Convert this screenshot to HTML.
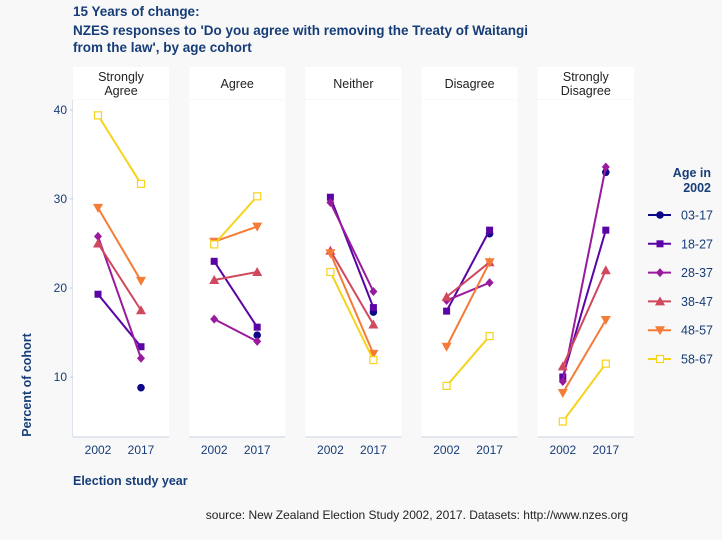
<!DOCTYPE html>
<html><head><meta charset="utf-8">
<style>
body{margin:0;background:#f8f8f8;font-family:"Liberation Sans","DejaVu Sans",sans-serif;}
svg{display:block}
</style></head>
<body>
<svg id="chart" width="722" height="540" xmlns="http://www.w3.org/2000/svg">
<rect width="722" height="540" fill="#f8f8f8"/>
<text x="73" y="16" font-size="13.5" font-weight="bold" fill="#163d78">15 Years of change:</text>
<text x="73" y="35" font-size="13.5" font-weight="bold" fill="#163d78">NZES responses to 'Do you agree with removing the Treaty of Waitangi</text>
<text x="73" y="52" font-size="13.5" font-weight="bold" fill="#163d78">from the law', by age cohort</text>
<text transform="translate(31,385) rotate(-90)" font-size="12.5" font-weight="bold" fill="#163d78" text-anchor="middle">Percent of cohort</text>
<text x="73" y="485" font-size="12.5" font-weight="bold" fill="#163d78">Election study year</text>
<text x="628" y="519" font-size="12" fill="#222" text-anchor="end">source: New Zealand Election Study 2002, 2017. Datasets: http://www.nzes.org</text>
<g id="plots"></g>
<g id="legend"></g>
</svg>
<script>
const panels = ["Strongly|Agree","Agree","Neither","Disagree","Strongly|Disagree"];
const cohorts = ["03-17","18-27","28-37","38-47","48-57","58-67"];
const years = ["2002","2017"];
const yTicks = [10,20,30,40];
// values per cohort: per panel [v2002, v2017]
const v0317 = [[null,8.8],[null,14.7],[null,17.3],[null,26.1],[null,33.0]];
const v1827 = [[19.3,13.4],[23.0,15.6],[30.2,17.8],[17.4,26.5],[10.0,26.5]];
const v2837 = [[25.8,12.1],[16.5,14.0],[29.6,19.6],[18.6,20.6],[9.5,33.6]];
const v3847 = [[25.0,17.5],[20.9,21.8],[24.2,15.9],[19.0,22.9],[11.2,22.0]];
const v4857 = [[29.0,20.8],[25.2,26.9],[23.9,12.6],[13.4,22.9],[8.2,16.4]];
const v5867 = [[39.4,31.7],[24.9,30.3],[21.8,11.9],[9.0,14.6],[5.0,11.5]];
const series = [v0317,v1827,v2837,v3847,v4857,v5867];
const colors = ["#0d0887","#5a04a5","#9a1a9e","#d0485d","#f47c36","#f7d31c"];
const shapes = ["circle","square","diamond","tri","tridown","opensq"];

const NS="http://www.w3.org/2000/svg";
function el(tag,attrs,parent){const e=document.createElementNS(NS,tag);for(const k in attrs)e.setAttribute(k,attrs[k]);parent.appendChild(e);return e;}
const yScale = v => 377-(v-10)*8.9;
const panelX = i => 73+i*116.2;
const px = (i,j) => panelX(i)+25+j*43;
const W=96, plotTop=100, plotBottom=437;

function marker(g,shape,cx,cy,c){
  let m;
  if(shape==="circle") m=el("circle",{cx:cx,cy:cy,r:3.8,fill:c},g);
  else if(shape==="square") m=el("rect",{x:cx-3.5,y:cy-3.5,width:7,height:7,fill:c},g);
  else if(shape==="diamond") m=el("polygon",{points:`${cx},${cy-4.5} ${cx+4},${cy} ${cx},${cy+4.5} ${cx-4},${cy}`,fill:c},g);
  else if(shape==="tri") m=el("polygon",{points:`${cx},${cy-5} ${cx+5},${cy+4} ${cx-5},${cy+4}`,fill:c},g);
  else if(shape==="tridown") m=el("polygon",{points:`${cx-5},${cy-4} ${cx+5},${cy-4} ${cx},${cy+5}`,fill:c},g);
  else m=el("rect",{x:cx-3.5,y:cy-3.5,width:7,height:7,fill:"#fff",stroke:c,"stroke-width":1.2},g);
  return m;
}

const plots=document.getElementById("plots");
const ya=el("g",{},plots);


el("line",{x1:73,y1:plotTop,x2:73,y2:plotBottom,stroke:"#c5cfe0"},ya);
yTicks.forEach(t=>{
  el("line",{x1:70,y1:yScale(t),x2:73,y2:yScale(t),stroke:"#c5cfe0"},ya);
  const tx=el("text",{x:67,y:yScale(t)+4,"font-size":12,fill:"#163d78","text-anchor":"end"},ya);
  tx.textContent=t;
  
  
});

panels.forEach((p,i)=>{
  const g=el("g",{},plots);
  
  
  const x0=panelX(i);
  el("rect",{x:x0,y:67,width:W,height:32,fill:"#fff"},g);
  const lines=p.split("|");
  lines.forEach((l,k)=>{
    const t=el("text",{x:x0+W/2,y:(lines.length===1?88:81+k*14),"font-size":12.5,fill:"#222","text-anchor":"middle"},g);
    t.textContent=l;
    
    
  });
  el("rect",{x:x0,y:plotTop,width:W,height:plotBottom-plotTop,fill:"#fff"},g);
  el("line",{x1:x0,y1:plotBottom,x2:x0+W,y2:plotBottom,stroke:"#c5cfe0"},g);
  years.forEach((yr,j)=>{
    const t=el("text",{x:px(i,j),y:454,"font-size":12,fill:"#163d78","text-anchor":"middle"},g);
    t.textContent=yr;
    
    
  });
  series.forEach((s,ci)=>{
    const d=s[i], c=colors[ci];
    const sg=el("g",{},g);
    
    
    if(d[0]!=null && d[1]!=null){
      el("line",{x1:px(i,0),y1:yScale(d[0]),x2:px(i,1),y2:yScale(d[1]),stroke:c,"stroke-width":2},sg);
    }
    d.forEach((v,j)=>{ if(v!=null){
      const m=marker(sg,shapes[ci],px(i,j),yScale(v),c);
      
      
    }});
  });
});

const lg=document.getElementById("legend");


const t1=el("text",{x:711,y:177,"font-size":12.5,"font-weight":"bold",fill:"#163d78","text-anchor":"end"},lg);t1.textContent="Age in";
const t2=el("text",{x:711,y:192,"font-size":12.5,"font-weight":"bold",fill:"#163d78","text-anchor":"end"},lg);t2.textContent="2002";


cohorts.forEach((c,k)=>{
  const yy=215+k*28.8;
  const eg=el("g",{},lg);
  
  
  el("line",{x1:648,y1:yy,x2:671,y2:yy,stroke:colors[k],"stroke-width":2},eg);
  marker(eg,shapes[k],660,yy,colors[k]);
  const t=el("text",{x:681,y:yy+4.5,"font-size":12.5,fill:"#163d78"},eg);
  t.textContent=c;
});
</script>
</body></html>
